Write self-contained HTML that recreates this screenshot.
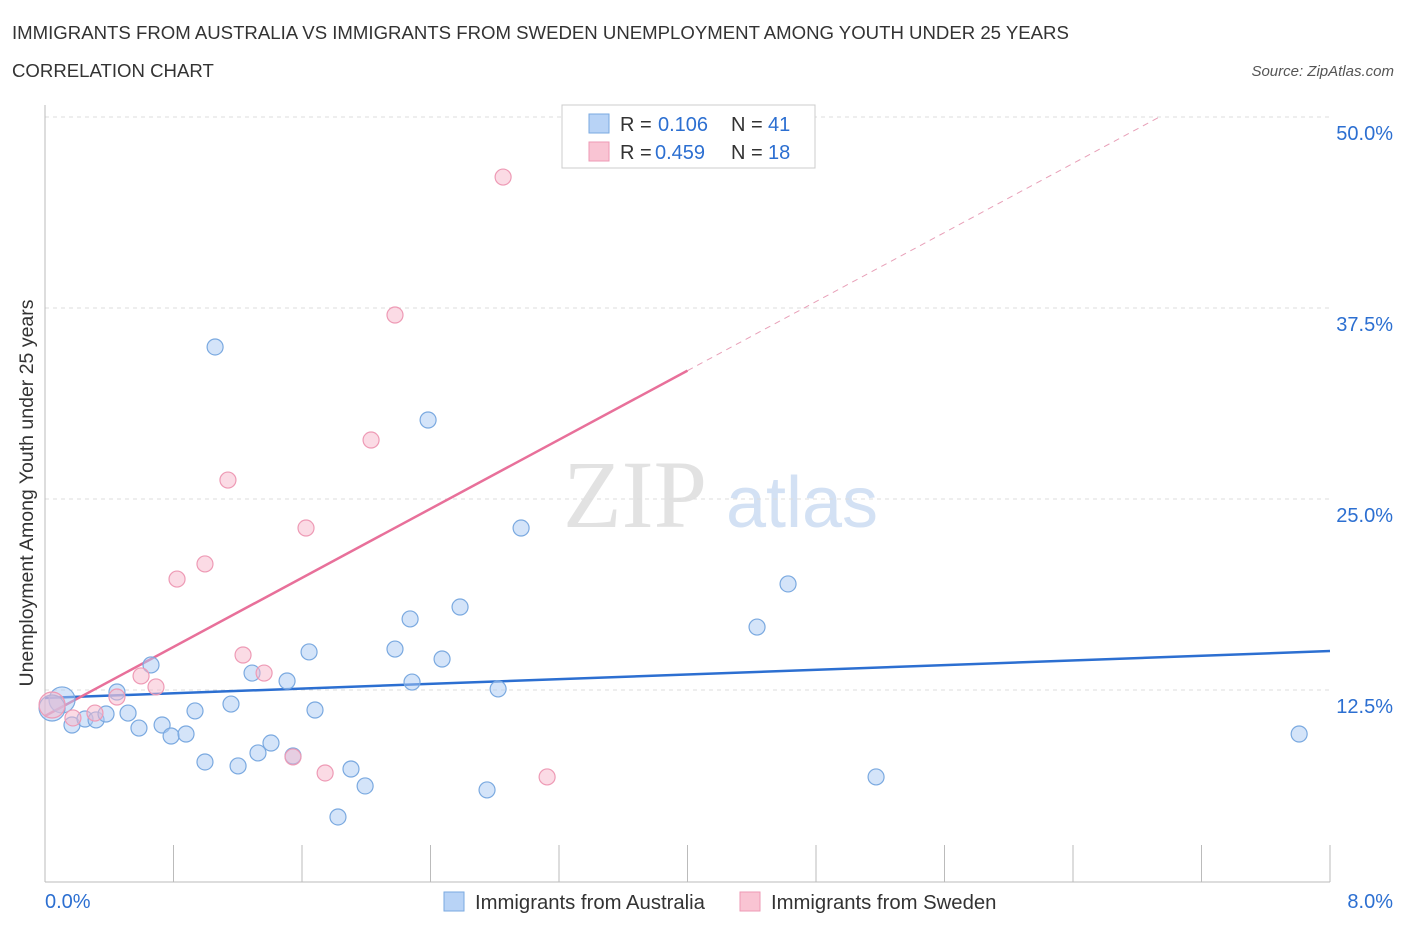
<!DOCTYPE html>
<html><head><meta charset="utf-8"><style>
body{margin:0;background:#fff;font-family:"Liberation Sans",sans-serif;}
svg{display:block}
</style></head><body>
<svg id="chart" width="1406" height="930">
<text x="12" y="39" font-size="18.6" fill="#333">IMMIGRANTS FROM AUSTRALIA VS IMMIGRANTS FROM SWEDEN UNEMPLOYMENT AMONG YOUTH UNDER 25 YEARS</text>
<text x="12" y="77" font-size="18.6" fill="#333">CORRELATION CHART</text>
<text x="1394" y="76" font-size="15" font-style="italic" fill="#555" text-anchor="end">Source: ZipAtlas.com</text>
<text x="33" y="493" font-size="19.5" fill="#333" text-anchor="middle" transform="rotate(-90 33 493)">Unemployment Among Youth under 25 years</text>
<text x="635" y="527" font-size="96" font-family="Liberation Serif,serif" fill="#e2e2e2" text-anchor="middle">ZIP</text>
<text x="802" y="527" font-size="72" fill="#d3e1f4" text-anchor="middle">atlas</text>
<g id="grid"></g><g id="axes"></g><g id="lines"></g><g id="pts"></g>
<g>
<rect x="562" y="105" width="253" height="63" fill="#fff" stroke="#ccc"/>
<rect x="589" y="114" width="20" height="19" fill="#b8d3f6" stroke="#7aa9e0"/>
<text x="620" y="131" font-size="20" fill="#333">R =</text>
<text x="658" y="131" font-size="20" fill="#2c6fd1">0.106</text>
<text x="731" y="131" font-size="20" fill="#333">N =</text>
<text x="768" y="131" font-size="20" fill="#2c6fd1">41</text>
<rect x="589" y="142" width="20" height="19" fill="#f9c4d3" stroke="#ee9ab5"/>
<text x="620" y="159" font-size="20" fill="#333">R =</text>
<text x="655" y="159" font-size="20" fill="#2c6fd1">0.459</text>
<text x="731" y="159" font-size="20" fill="#333">N =</text>
<text x="768" y="159" font-size="20" fill="#2c6fd1">18</text>
</g>
<g>
<rect x="444" y="892" width="20" height="19" fill="#b8d3f6" stroke="#7aa9e0"/>
<text x="475" y="909" font-size="20.3" fill="#333">Immigrants from Australia</text>
<rect x="740" y="892" width="20" height="19" fill="#f9c4d3" stroke="#ee9ab5"/>
<text x="771" y="909" font-size="20.3" fill="#333">Immigrants from Sweden</text>
</g>
<text x="45" y="908" font-size="20" fill="#2c6fd1">0.0%</text>
<text x="1393" y="908" font-size="20" fill="#2c6fd1" text-anchor="end">8.0%</text>
</svg>
<script>
const yTicks=[12.5,25,37.5,50];
const yTickLabels=["12.5%","25.0%","37.5%","50.0%"];
const ausX=[0.106,0.044,0.168,0.249,0.318,0.448,0.380,0.517,0.585,0.660,0.729,0.785,0.878,0.934,0.996,1.059,1.158,1.202,1.289,1.326,1.407,1.507,1.544,1.644,1.681,1.824,1.905,1.993,2.179,2.273,2.285,2.385,2.472,2.584,2.752,2.821,2.964,4.433,4.626,5.174,7.808];
const ausY=[11.85,11.32,10.21,10.60,10.54,12.37,10.93,10.99,10.01,14.14,10.21,9.49,9.62,11.13,7.79,34.95,11.58,7.53,13.61,8.38,9.03,13.09,8.18,14.99,11.19,4.19,7.33,6.22,15.18,17.15,13.02,30.17,14.53,17.93,5.96,12.57,23.10,16.62,19.44,6.81,9.62];
const sweX=[0.044,0.174,0.311,0.448,0.598,0.691,0.822,0.996,1.139,1.233,1.364,1.544,1.625,1.744,2.030,2.179,2.852,3.126];
const sweY=[11.52,10.67,10.99,12.04,13.42,12.70,19.76,20.75,26.24,14.79,13.61,8.12,23.10,7.07,28.86,37.04,46.07,6.81];
const ausTrend=[11.98,15.05];
const sweTrend=[10.8,56.0];
const NS="http://www.w3.org/2000/svg";
const X=v=>45+v*160.625, Y=v=>881-v*15.28;
function mk(t,a,p){const e=document.createElementNS(NS,t);for(const k in a)e.setAttribute(k,a[k]);document.getElementById(p).appendChild(e);return e;}
yTicks.forEach((t,i)=>{
 const g=mk('line',{x1:45,x2:1330,y1:Y(t),y2:Y(t),stroke:'#ddd','stroke-dasharray':'4,4'},'grid');
 
 
 const l=mk('text',{x:1393,y:Y(t)+23,'font-size':20,fill:'#2c6fd1','text-anchor':'end'},'axes');
 l.textContent=yTickLabels[i];
 
 
});
const ya=mk('line',{x1:45,x2:45,y1:105,y2:882,stroke:'#bbb'},'axes');


const xa=mk('line',{x1:45,x2:1330,y1:882,y2:882,stroke:'#bbb'},'axes');


for(let i=0;i<=10;i++){const t=mk('line',{x1:X(i*0.8),x2:X(i*0.8),y1:845,y2:882,stroke:'#bbb'},'axes');
 
 }
const bl=mk('line',{x1:X(0),y1:Y(ausTrend[0]),x2:X(8),y2:Y(ausTrend[1]),stroke:'#2c6fd1','stroke-width':2.5},'lines');


const sl=(sweTrend[1]-sweTrend[0])/8;
const ps=mk('line',{x1:X(0),y1:Y(sweTrend[0]),x2:X(4),y2:Y(sweTrend[0]+sl*4),stroke:'#e8709a','stroke-width':2.5},'lines');


const xe=(50-sweTrend[0])/sl;
const pd=mk('line',{x1:X(4),y1:Y(sweTrend[0]+sl*4),x2:X(xe),y2:Y(50),stroke:'#e8a0b8','stroke-width':1,'stroke-dasharray':'6,5'},'lines');


ausX.forEach((x,i)=>{const c=mk('circle',{cx:X(x),cy:Y(ausY[i]),r:i<2?13:8,fill:'rgba(170,202,243,0.5)',stroke:'#7aa9e0','stroke-width':1.2},'pts');
 
 });
sweX.forEach((x,i)=>{const c=mk('circle',{cx:X(x),cy:Y(sweY[i]),r:i<1?13:8,fill:'rgba(248,184,204,0.5)',stroke:'#ee9ab5','stroke-width':1.2},'pts');
 
 });
</script>
</body></html>
